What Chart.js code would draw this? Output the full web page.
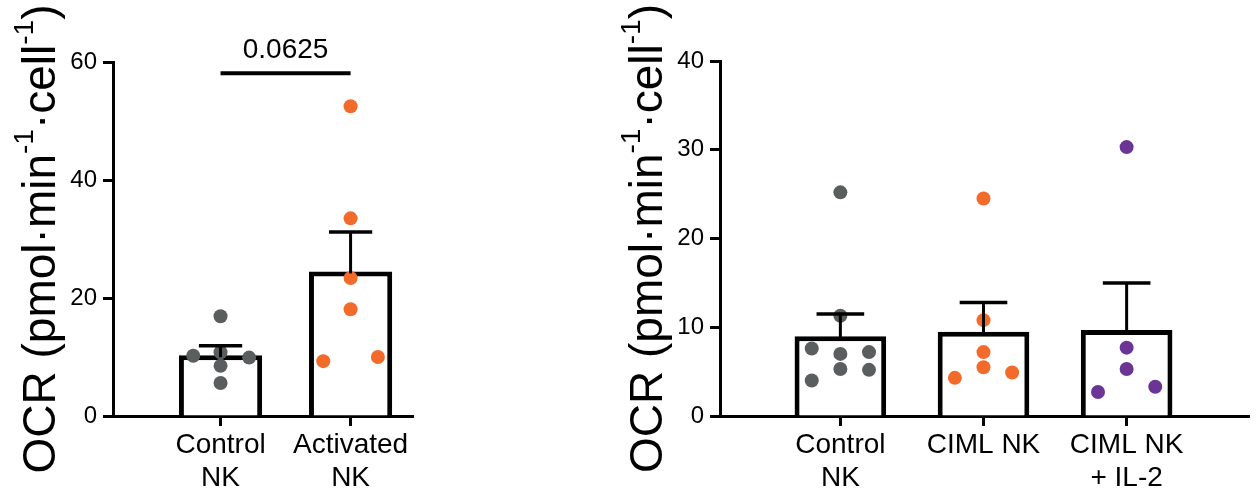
<!DOCTYPE html>
<html>
<head>
<meta charset="utf-8">
<script src="https://cdn.jsdelivr.net/npm/chart.js@4"></script>
<style>
  html, body { margin: 0; padding: 0; background: #fff; }
  #wrap { position: relative; width: 1256px; height: 496px; }
  .panel { position: absolute; top: 0; height: 496px; }
  #left { left: 0; width: 420px; }
  #right { left: 600px; width: 656px; }
</style>
</head>
<body>
<div id="wrap">
  <div class="panel" id="left"><canvas id="chartA"></canvas></div>
  <div class="panel" id="right"><canvas id="chartB"></canvas></div>
</div>
<script>
// left panel
const groupsA = [['Control', 'NK'], ['Activated', 'NK']];
const meansA = [10.3, 24.5];
const semA = [1.6, 6.7];
const ctrlA = [16.9, 10.8, 8.5, 5.6, 10.2, 9.9];
const ctrlSpreadA = [0, 0, 0, 0, -0.21, 0.22];
const actA = [52.5, 33.5, 23.4, 18.1, 9.3, 10.0];
const actSpreadA = [0, 0, 0, 0, -0.21, 0.21];
const ticksA = [0, 20, 40, 60];
const pValue = '0.0625';
const pLineY = 58.1;

// right panel
const groupsB = [['Control', 'NK'], ['CIML NK'], ['CIML NK', '+ IL-2']];
const meansB = [9.0, 9.5, 9.7];
const semB = [2.5, 3.3, 5.3];
const ctrlB = [25.2, 11.3, 7.6, 7.0, 7.2, 5.3, 5.2, 4.0];
const ctrlSpreadB = [0, 0, -0.2, 0, 0.2, 0, 0.2, -0.2];
const cimlB = [24.5, 10.8, 7.2, 5.5, 4.3, 4.9];
const cimlSpreadB = [0, 0, 0, 0, -0.2, 0.2];
const il2B = [30.3, 7.7, 5.3, 2.7, 3.3];
const il2SpreadB = [0, 0, 0, -0.2, 0.2];
const ticksB = [0, 10, 20, 30, 40];

const GREY = '#5a5e5f';
const ORANGE = '#f26b2b';
const PURPLE = '#6b3596';
const FONT = '"Liberation Sans", Arial, sans-serif';

function dots(groups) {
  // groups: [values, spread, colour] for each category
  const pts = [], cols = [];
  groups.forEach((g, i) => {
    g[0].forEach((v, j) => {
      pts.push({ x: i + 1 + g[1][j], y: v });
      cols.push(g[2]);
    });
  });
  return { pts, cols };
}

function drawTitle(chart) {
  const ctx = chart.ctx, ca = chart.chartArea;
  const parts = [['OCR (pmol·min', 0], ['-1', 1], ['·cell', 0], ['-1', 1], [')', 0]];
  const big = '46px ' + FONT, small = '28px ' + FONT;
  ctx.save();
  let total = 0;
  parts.forEach(p => { ctx.font = p[1] ? small : big; total += ctx.measureText(p[0]).width; });
  ctx.translate(ca.left - 58, (ca.top + ca.bottom) / 2);
  ctx.rotate(-Math.PI / 2);
  ctx.fillStyle = '#000';
  ctx.textBaseline = 'alphabetic';
  let u = -total / 2;
  parts.forEach(p => {
    ctx.font = p[1] ? small : big;
    ctx.fillText(p[0], u, p[1] ? -22 : 0);
    u += ctx.measureText(p[0]).width;
  });
  ctx.restore();
}

const extras = {
  id: 'extras',
  afterDatasetsDraw(chart, args, o) {
    const ctx = chart.ctx, x = chart.scales.x, y = chart.scales.y;
    const barMeta = chart.getDatasetMeta(1);
    ctx.save();
    ctx.strokeStyle = '#000';
    o.means.forEach((m, i) => {
      const bar = barMeta.data[i];
      const cx = x.getPixelForValue(i + 1);
      const top = y.getPixelForValue(m) + 2;
      const hi = y.getPixelForValue(m + o.sem[i]);
      const cap = bar.width * 0.26;
      ctx.lineWidth = 3;
      ctx.beginPath(); ctx.moveTo(cx, top); ctx.lineTo(cx, hi); ctx.stroke();
      ctx.lineWidth = 3.5;
      ctx.beginPath(); ctx.moveTo(cx - cap, hi); ctx.lineTo(cx + cap, hi); ctx.stroke();
    });
    if (o.p) {
      const py = y.getPixelForValue(o.p.y);
      const x1 = x.getPixelForValue(o.p.from), x2 = x.getPixelForValue(o.p.to);
      ctx.lineWidth = 4;
      ctx.beginPath(); ctx.moveTo(x1, py); ctx.lineTo(x2, py); ctx.stroke();
      ctx.fillStyle = '#000';
      ctx.font = '28px ' + FONT;
      ctx.textAlign = 'center';
      ctx.textBaseline = 'alphabetic';
      ctx.fillText(o.p.text, (x1 + x2) / 2, py - 15);
    }
    ctx.restore();
  },
  afterDraw(chart) {
    drawTitle(chart);
  }
};

function makePanel(id, cfg) {
  const d = dots(cfg.dotGroups);
  new Chart(document.getElementById(id), {
    type: 'bar',
    data: {
      datasets: [{
        type: 'scatter',
        data: d.pts,
        pointRadius: 7,
        pointHoverRadius: 7,
        pointBackgroundColor: d.cols,
        pointBorderWidth: 0,
        order: 1
      }, {
        type: 'bar',
        data: cfg.means.map((m, i) => ({ x: i + 1, y: m })),
        backgroundColor: '#fff',
        borderColor: '#000',
        borderWidth: 5,
        categoryPercentage: 1,
        barPercentage: 0.64,
        order: 2
      }]
    },
    options: {
      responsive: true,
      maintainAspectRatio: false,
      animation: false,
      layout: { padding: { top: cfg.top, right: 0, left: 0, bottom: 0 } },
      plugins: {
        legend: { display: false },
        tooltip: { enabled: false },
        extras: { means: cfg.means, sem: cfg.sem, p: cfg.p }
      },
      scales: {
        x: {
          type: 'linear',
          offset: false,
          min: cfg.xmin,
          max: cfg.xmax,
          afterBuildTicks: s => { s.ticks = cfg.groups.map((g, i) => ({ value: i + 1 })); },
          afterFit: s => { s.height = 80; },
          border: { display: true, color: '#000', width: 3 },
          grid: { display: true, offset: false, drawOnChartArea: false, drawTicks: true, tickLength: 10, tickWidth: 3, tickColor: '#000' },
          ticks: {
            autoSkip: false,
            maxRotation: 0,
            padding: 3,
            color: '#000',
            font: { family: FONT, size: 28, lineHeight: 1.18 },
            callback: v => cfg.groups[Math.round(v) - 1]
          }
        },
        y: {
          min: 0,
          max: cfg.ticks[cfg.ticks.length - 1],
          afterBuildTicks: s => { s.ticks = cfg.ticks.map(v => ({ value: v })); },
          afterFit: s => { s.width = cfg.axisX; },
          border: { display: true, color: '#000', width: 3 },
          grid: { display: true, drawOnChartArea: false, drawTicks: true, tickLength: 10, tickWidth: 3, tickColor: '#000' },
          ticks: {
            padding: 6,
            color: '#000',
            font: { family: FONT, size: 24 }
          }
        }
      }
    },
    plugins: [extras]
  });
}

makePanel('chartA', {
  groups: groupsA,
  means: meansA,
  sem: semA,
  ticks: ticksA,
  dotGroups: [[ctrlA, ctrlSpreadA, GREY], [actA, actSpreadA, ORANGE]],
  p: { from: 1, to: 2, y: pLineY, text: pValue },
  xmin: 0.173,
  xmax: 2.48,
  axisX: 113,
  top: 62
});

makePanel('chartB', {
  groups: groupsB,
  means: meansB,
  sem: semB,
  ticks: ticksB,
  dotGroups: [[ctrlB, ctrlSpreadB, GREY], [cimlB, cimlSpreadB, ORANGE], [il2B, il2SpreadB, PURPLE]],
  p: null,
  xmin: 0.159,
  xmax: 3.855,
  axisX: 120,
  top: 61
});
</script>
</body>
</html>
